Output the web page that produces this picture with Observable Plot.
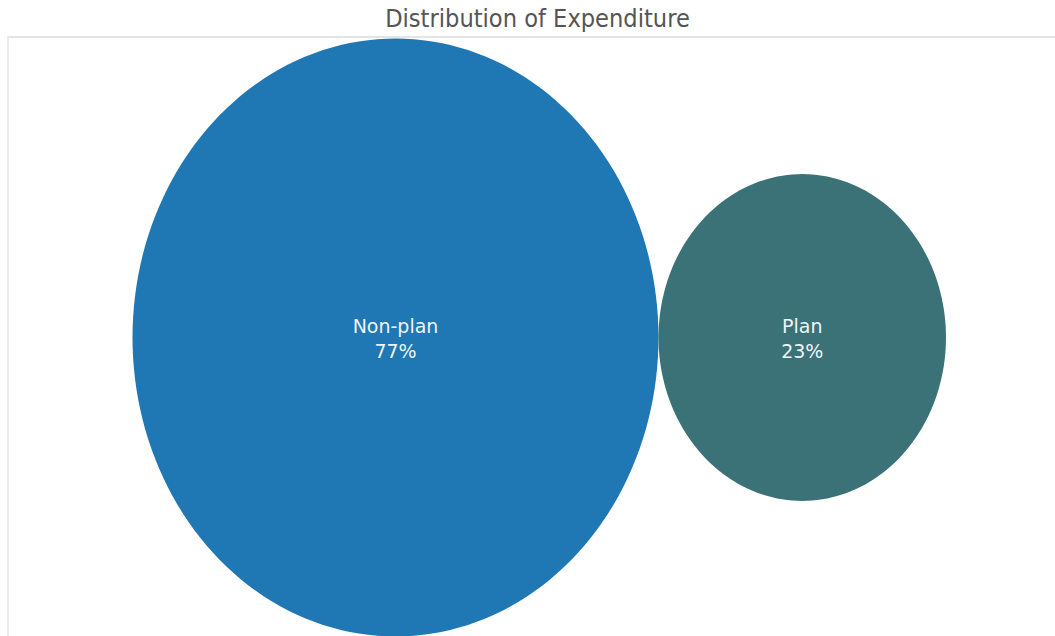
<!DOCTYPE html>
<html>
<head>
<meta charset="utf-8">
<script src="https://cdn.jsdelivr.net/npm/d3@7"></script>
<script src="https://cdn.jsdelivr.net/npm/@observablehq/plot@0.6"></script>
<style>
  html, body { margin: 0; padding: 0; background: #fff; overflow: hidden; width: 1055px; height: 636px; }
  #title { position: absolute; left: 0; top: 3px; width: 1075px; text-align: center;
    font-family: "DejaVu Sans", sans-serif; font-size: 22.6px; color: #555; transform: scaleY(1.13); transform-origin: top; }
  #frame { position: absolute; left: 7px; top: 36px; width: 2000px; height: 2000px;
    border-top: 2px solid #e4e4e4; border-left: 2px solid #ececec; }
  #chart { position: absolute; left: 0; top: 38px; }
  #chart text { transform-box: fill-box; transform-origin: center; }
</style>
</head>
<body>
<div id="title">Distribution of Expenditure</div>
<div id="frame"></div>
<div id="chart"></div>
<script>
const categories = ["Non-plan", "Plan"];
const shares = [77, 23];
const colors = ["#1f77b4", "#3a7277"];

// radius proportional to sqrt(share); circles placed side by side, tangent
const radii = shares.map(s => Math.sqrt(s));
const centers = [0, radii[0] + radii[1]];

const outline = [];
categories.forEach((c, i) => {
  const n = 180;
  for (let k = 0; k < n; k++) {
    const a = (2 * Math.PI * k) / n;
    outline.push({category: c, x: centers[i] + radii[i] * Math.cos(a), y: radii[i] * Math.sin(a)});
  }
});
const labels = categories.map((c, i) => ({category: c, x: centers[i], y: 0, text: `${c}\n${shares[i]}%`}));

const W = 1055, H = 598;
const kx = 263 / radii[0];          // px per unit horizontally
const x0 = 395;                      // pixel of first centre
const xDomain = [-x0 / kx, (W - x0) / kx];

const chart = Plot.plot({
  width: W,
  height: H,
  margin: 0,
  x: {domain: xDomain, axis: null},
  y: {domain: [-radii[0], radii[0]], axis: null},
  color: {domain: categories, range: colors},
  marks: [
    Plot.line(outline, {x: "x", y: "y", z: "category", fill: "category", stroke: null, curve: "linear-closed"}),
    Plot.text(labels, {x: "x", y: "y", text: "text", fill: "#eef4f8", fontSize: 19, lineHeight: 1.3,
      fontFamily: "DejaVu Sans, sans-serif"})
  ]
});
document.getElementById("chart").appendChild(chart);
</script>
</body>
</html>
